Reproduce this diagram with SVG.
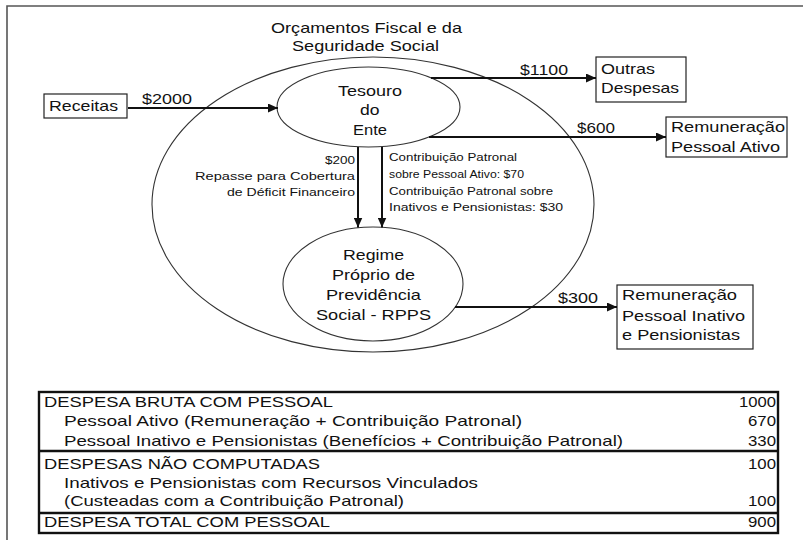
<svg xmlns="http://www.w3.org/2000/svg" width="803" height="540" viewBox="0 0 803 540">
<style>
text{font-family:"Liberation Sans",Arial,sans-serif;fill:#111;}
.t15{font-size:15px;}
.t14{font-size:14.5px;}
.t11{font-size:11.5px;}
.ell{fill:none;stroke:#333;stroke-width:1.1;}
.box{fill:#fff;stroke:#222;stroke-width:1.2;}
.arr{stroke:#111;stroke-width:1.8;fill:none;marker-end:url(#ah);}
.frame{stroke:#555;stroke-width:1.6;fill:none;}
.tb{fill:none;stroke:#111;stroke-width:2.4;}
</style>
<defs>
<marker id="ah" markerUnits="userSpaceOnUse" markerWidth="10" markerHeight="9" refX="10" refY="4.5" orient="auto">
<path d="M0,0 L10,4.5 L0,9 z" fill="#111"/>
</marker>
</defs>
<rect width="803" height="540" fill="#fff"/>
<path class="frame" d="M7,540 L7,6 L803,6"/>

<g id="orcamentos">
<ellipse class="ell" cx="373" cy="204.5" rx="221" ry="147.5"/>
<text class="t14" x="271" y="33" textLength="191" lengthAdjust="spacingAndGlyphs">Orçamentos Fiscal e da</text>
<text class="t14" x="292" y="51" textLength="147" lengthAdjust="spacingAndGlyphs">Seguridade Social</text>
</g>

<g id="receitas">
<rect class="box" x="44" y="94" width="83" height="24"/>
<text class="t15" x="49" y="111" textLength="69" lengthAdjust="spacingAndGlyphs">Receitas</text>
</g>

<g id="tesouro">
<ellipse class="ell" cx="368.5" cy="107" rx="91.5" ry="40"/>
<text class="t15" x="338" y="96" textLength="64" lengthAdjust="spacingAndGlyphs">Tesouro</text>
<text class="t15" x="360" y="115" textLength="19.5" lengthAdjust="spacingAndGlyphs">do</text>
<text class="t15" x="353" y="135" textLength="34" lengthAdjust="spacingAndGlyphs">Ente</text>
</g>

<g id="outras">
<rect class="box" x="596" y="57" width="90" height="45"/>
<text class="t15" x="601" y="74" textLength="54" lengthAdjust="spacingAndGlyphs">Outras</text>
<text class="t15" x="601" y="93" textLength="78" lengthAdjust="spacingAndGlyphs">Despesas</text>
</g>

<g id="remuneracao-ativo">
<rect class="box" x="666" y="117" width="121" height="40"/>
<text class="t15" x="671" y="132" textLength="114" lengthAdjust="spacingAndGlyphs">Remuneração</text>
<text class="t15" x="671" y="152" textLength="109" lengthAdjust="spacingAndGlyphs">Pessoal Ativo</text>
</g>

<g id="rpps">
<ellipse class="ell" cx="373" cy="284" rx="90" ry="57"/>
<text class="t15" x="343" y="260" textLength="61" lengthAdjust="spacingAndGlyphs">Regime</text>
<text class="t15" x="332" y="280" textLength="83" lengthAdjust="spacingAndGlyphs">Próprio de</text>
<text class="t15" x="326" y="300" textLength="95" lengthAdjust="spacingAndGlyphs">Previdência</text>
<text class="t15" x="316" y="320" textLength="115" lengthAdjust="spacingAndGlyphs">Social - RPPS</text>
</g>

<g id="remuneracao-inativo">
<rect class="box" x="617" y="285" width="136" height="64"/>
<text class="t15" x="622" y="300" textLength="115" lengthAdjust="spacingAndGlyphs">Remuneração</text>
<text class="t15" x="622" y="321" textLength="123" lengthAdjust="spacingAndGlyphs">Pessoal Inativo</text>
<text class="t15" x="622" y="340" textLength="118" lengthAdjust="spacingAndGlyphs">e Pensionistas</text>
</g>

<g id="connectors">
<line class="arr" x1="128" y1="108" x2="278" y2="108"/>
<text class="t15" x="142" y="104" textLength="50" lengthAdjust="spacingAndGlyphs">$2000</text>
<line class="arr" x1="431" y1="78" x2="596" y2="78"/>
<text class="t15" x="520" y="75" textLength="48" lengthAdjust="spacingAndGlyphs">$1100</text>
<line class="arr" x1="429" y1="137" x2="666" y2="137"/>
<text class="t15" x="577" y="133" textLength="38" lengthAdjust="spacingAndGlyphs">$600</text>
<line class="arr" x1="358" y1="147" x2="358" y2="227.5" style="stroke-width:2"/>
<line class="arr" x1="382" y1="147" x2="382" y2="227.5" style="stroke-width:2"/>
<text class="t11" x="325" y="164" textLength="30" lengthAdjust="spacingAndGlyphs">$200</text>
<text class="t11" x="195" y="180" textLength="160" lengthAdjust="spacingAndGlyphs">Repasse para Cobertura</text>
<text class="t11" x="227" y="196" textLength="128" lengthAdjust="spacingAndGlyphs">de Déficit Financeiro</text>
<text class="t11" x="389" y="161" textLength="128" lengthAdjust="spacingAndGlyphs">Contribuição Patronal</text>
<text class="t11" x="389" y="178" textLength="135" lengthAdjust="spacingAndGlyphs">sobre Pessoal Ativo: $70</text>
<text class="t11" x="389" y="195" textLength="164" lengthAdjust="spacingAndGlyphs">Contribuição Patronal sobre</text>
<text class="t11" x="389" y="211" textLength="174" lengthAdjust="spacingAndGlyphs">Inativos e Pensionistas: $30</text>
<line class="arr" x1="455" y1="307" x2="617" y2="307"/>
<text class="t15" x="558" y="303" textLength="40" lengthAdjust="spacingAndGlyphs">$300</text>
</g>

<g id="tabela">
<rect class="tb" x="39" y="392" width="739" height="141"/>
<line class="tb" x1="39" y1="451" x2="778" y2="451"/>
<line class="tb" x1="39" y1="513" x2="778" y2="513"/>
<text class="t15" x="44" y="407" textLength="289" lengthAdjust="spacingAndGlyphs">DESPESA BRUTA COM PESSOAL</text>
<text class="t15" x="64" y="426" textLength="458" lengthAdjust="spacingAndGlyphs">Pessoal Ativo (Remuneração + Contribuição Patronal)</text>
<text class="t15" x="64" y="446" textLength="559" lengthAdjust="spacingAndGlyphs">Pessoal Inativo e Pensionistas (Benefícios + Contribuição Patronal)</text>
<text class="t15" x="44" y="469" textLength="276" lengthAdjust="spacingAndGlyphs">DESPESAS NÃO COMPUTADAS</text>
<text class="t15" x="64" y="488" textLength="414" lengthAdjust="spacingAndGlyphs">Inativos e Pensionistas com Recursos Vinculados</text>
<text class="t15" x="64" y="506" textLength="340" lengthAdjust="spacingAndGlyphs">(Custeadas com a Contribuição Patronal)</text>
<text class="t15" x="44" y="527" textLength="286" lengthAdjust="spacingAndGlyphs">DESPESA TOTAL COM PESSOAL</text>
<text class="t15" x="739" y="407" textLength="37" lengthAdjust="spacingAndGlyphs">1000</text>
<text class="t15" x="748" y="426" textLength="28" lengthAdjust="spacingAndGlyphs">670</text>
<text class="t15" x="748" y="446" textLength="28" lengthAdjust="spacingAndGlyphs">330</text>
<text class="t15" x="748" y="469" textLength="28" lengthAdjust="spacingAndGlyphs">100</text>
<text class="t15" x="748" y="506" textLength="28" lengthAdjust="spacingAndGlyphs">100</text>
<text class="t15" x="748" y="527" textLength="28" lengthAdjust="spacingAndGlyphs">900</text>
</g>
</svg>
